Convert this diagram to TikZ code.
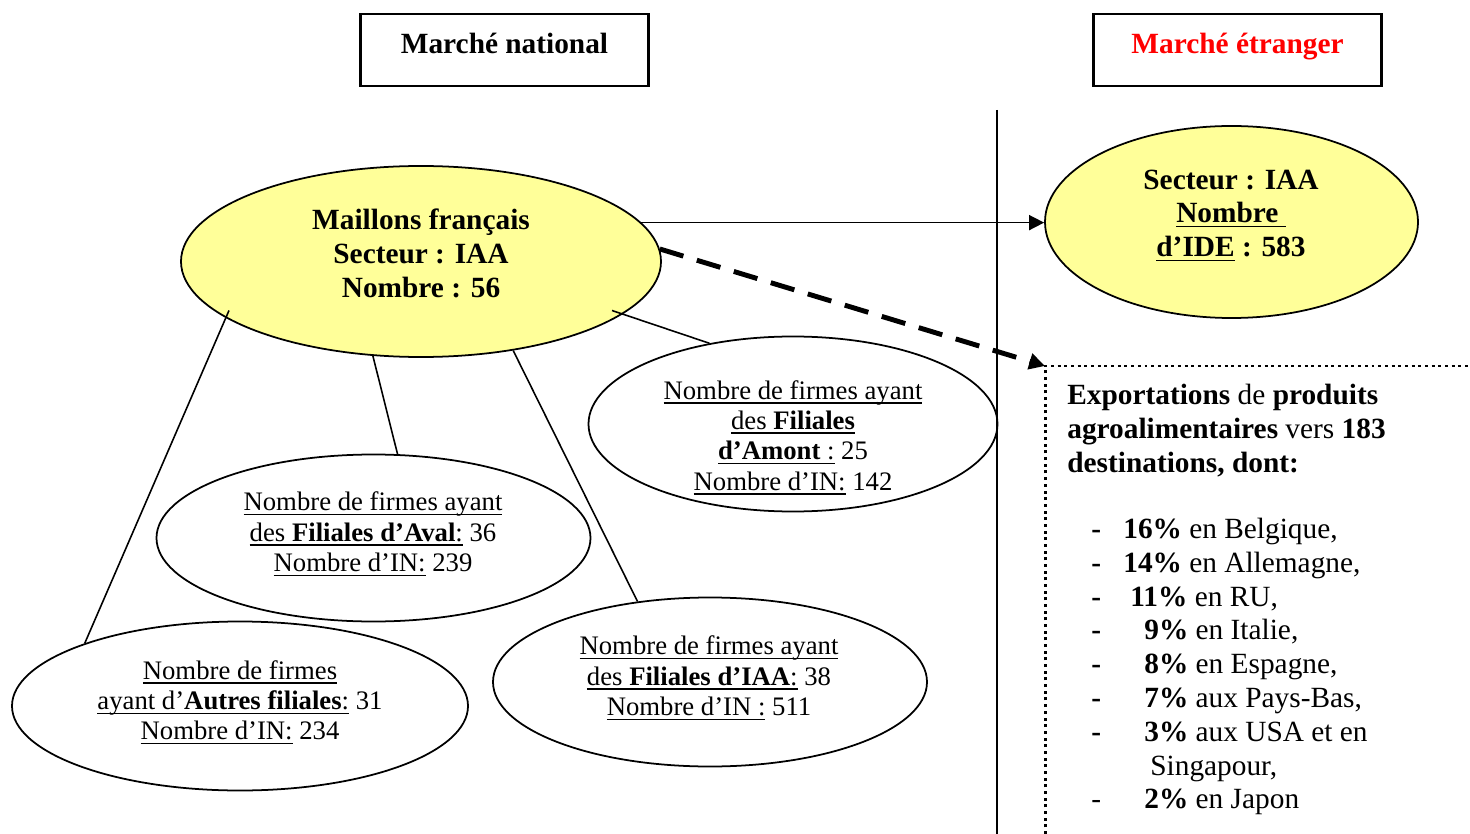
\documentclass[tikz,border=0pt]{standalone}
\usepackage{fontspec}
\setmainfont{Liberation Serif}
\usetikzlibrary{shapes.geometric,arrows.meta}
\definecolor{paleyellow}{HTML}{FFFF99}
\definecolor{titlered}{HTML}{FF0000}
\newcommand{\smsize}{\fontsize{15.2pt}{17.3pt}\selectfont}
\newcommand{\bgsize}{\fontsize{16.7pt}{19.3pt}\selectfont}
% underline at a fixed depth below the baseline
\newcommand{\undl}[1]{\leavevmode\setbox0\hbox{#1}\rlap{\rule[-2.6pt]{\wd0}{0.9pt}}\box0\relax}

\begin{document}
\begin{tikzpicture}[x=0.02cm,y=-0.02cm,
  every node/.style={inner sep=0pt},
  oval/.style={draw, line width=1pt, ellipse},
  hot/.style={oval, fill=paleyellow},
  lbl/.style={align=center, font=\smsize},
  hdr/.style={align=center, font=\bgsize\bfseries},
  titlebox/.style={draw, line width=1.2pt, minimum width=288*0.02cm, minimum height=72*0.02cm},
  link/.style={line width=0.9pt},
  item/.style={anchor=base west, font=\bgsize},
  tip/.style={-{Triangle[length=8.5pt,width=8.5pt]}}
]
\useasboundingbox (0,0) rectangle (1470,834);

% title boxes
\node[titlebox] (natbox) at (504.5,50) {};
\node[hdr, anchor=base] (nat) at (504.5,53.5) {Marché national};
\node[titlebox] (etrbox) at (1237.5,50) {};
\node[hdr, anchor=base, text=titlered] (etr) at (1237.5,53.5) {Marché étranger};

% border between the two markets
\coordinate (vtop) at (997,110);
\coordinate (vbot) at (997,834);
\draw[line width=1.1pt] (vtop) -- (vbot);

% French firms
\node[hot, minimum width=480*0.02cm, minimum height=191*0.02cm] (main) at (421,261.5) {};
\node[hdr] (maintxt) at (421,253.2) {Maillons français\\Secteur : IAA\\Nombre : 56};

% FDI abroad
\node[hot, minimum width=373*0.02cm, minimum height=192*0.02cm] (ide) at (1231.5,222) {};
\node[hdr] (idetxt) at (1231,215.5) {Secteur : IAA\\\undl{Nombre\ }\\\undl{d’IDE} : 583};

% subsidiaries
\node[oval, minimum width=409*0.02cm, minimum height=175*0.02cm] (amont) at (793,424) {};
\node[lbl] (amonttxt) at (793,437.5) {\undl{Nombre de firmes ayant}\\\undl{des \textbf{Filiales}}\\\undl{\textbf{d’Amont} :} 25\\\undl{Nombre d’IN:} 142};

\node[oval, minimum width=434*0.02cm, minimum height=167*0.02cm] (aval) at (373.5,538) {};
\node[lbl] (avaltxt) at (373,534) {\undl{Nombre de firmes ayant}\\\undl{des \textbf{Filiales d’Aval}:} 36\\\undl{Nombre d’IN:} 239};

\node[oval, minimum width=434*0.02cm, minimum height=169*0.02cm] (iaa) at (710,682) {};
\node[lbl] (iaatxt) at (709,678) {\undl{Nombre de firmes ayant}\\\undl{des \textbf{Filiales d’IAA}:} 38\\\undl{Nombre d’IN :} 511};

\node[oval, minimum width=456*0.02cm, minimum height=169*0.02cm] (autres) at (240,706) {};
\node[lbl] (autrestxt) at (240,702.4) {\undl{Nombre de firmes}\\\undl{ayant d’\textbf{Autres filiales}:} 31\\\undl{Nombre d’IN:} 234};

% links to the subsidiaries
\draw[link] ([shift={(-192,49)}]main.center) -- (autres.158);
\draw[link] (main.243) -- (aval.74);
\draw[link] (main.316) -- (iaa.132);
\draw[link] ([shift={(191,49)}]main.center) -- (amont.136);

% exports box
\coordinate (corner) at (1045,366);
\coordinate (dtr) at (1470,366);
\coordinate (dbl) at (1045,834);
\draw[line width=1.7pt, dash pattern=on 1.7pt off 2.1pt] (dbl) |- (dtr);

% arrows
\draw[link, tip] (main.10) -- (main.10 -| ide.west);
\draw[line width=2.8pt, dash pattern=on 14pt off 8pt, -{Triangle[length=9pt,width=9pt]}] (main.3) -- (corner);

\node[item] (ex1) at (1067,404) {\textbf{Exportations} de \textbf{produits}};
\node[item] (ex2) at (1067,438) {\textbf{agroalimentaires} vers \textbf{183}};
\node[item] (ex3) at (1067,472) {\textbf{destinations, dont:}};

\node[item] (d1) at (1091,538.5) {\textbf{-}};
\node[item] (t1) at (1123,538.5) {\textbf{16\%} en Belgique,};
\node[item] (d2) at (1091,572.3) {\textbf{-}};
\node[item] (t2) at (1123,572.3) {\textbf{14\%} en Allemagne,};
\node[item] (d3) at (1091,606.1) {\textbf{-}};
\node[item] (t3) at (1130,606.1) {\textbf{11\%} en RU,};
\node[item] (d4) at (1091,639.9) {\textbf{-}};
\node[item] (t4) at (1144,639.9) {\textbf{9\%} en Italie,};
\node[item] (d5) at (1091,673.7) {\textbf{-}};
\node[item] (t5) at (1144,673.7) {\textbf{8\%} en Espagne,};
\node[item] (d6) at (1091,707.5) {\textbf{-}};
\node[item] (t6) at (1144,707.5) {\textbf{7\%} aux Pays-Bas,};
\node[item] (d7) at (1091,741.3) {\textbf{-}};
\node[item] (t7) at (1144,741.3) {\textbf{3\%} aux USA et en};
\node[item] (t8) at (1150,775.1) {Singapour,};
\node[item] (d9) at (1091,808.9) {-};
\node[item] (t9) at (1144,808.9) {\textbf{2\%} en Japon};
\end{tikzpicture}
\end{document}
